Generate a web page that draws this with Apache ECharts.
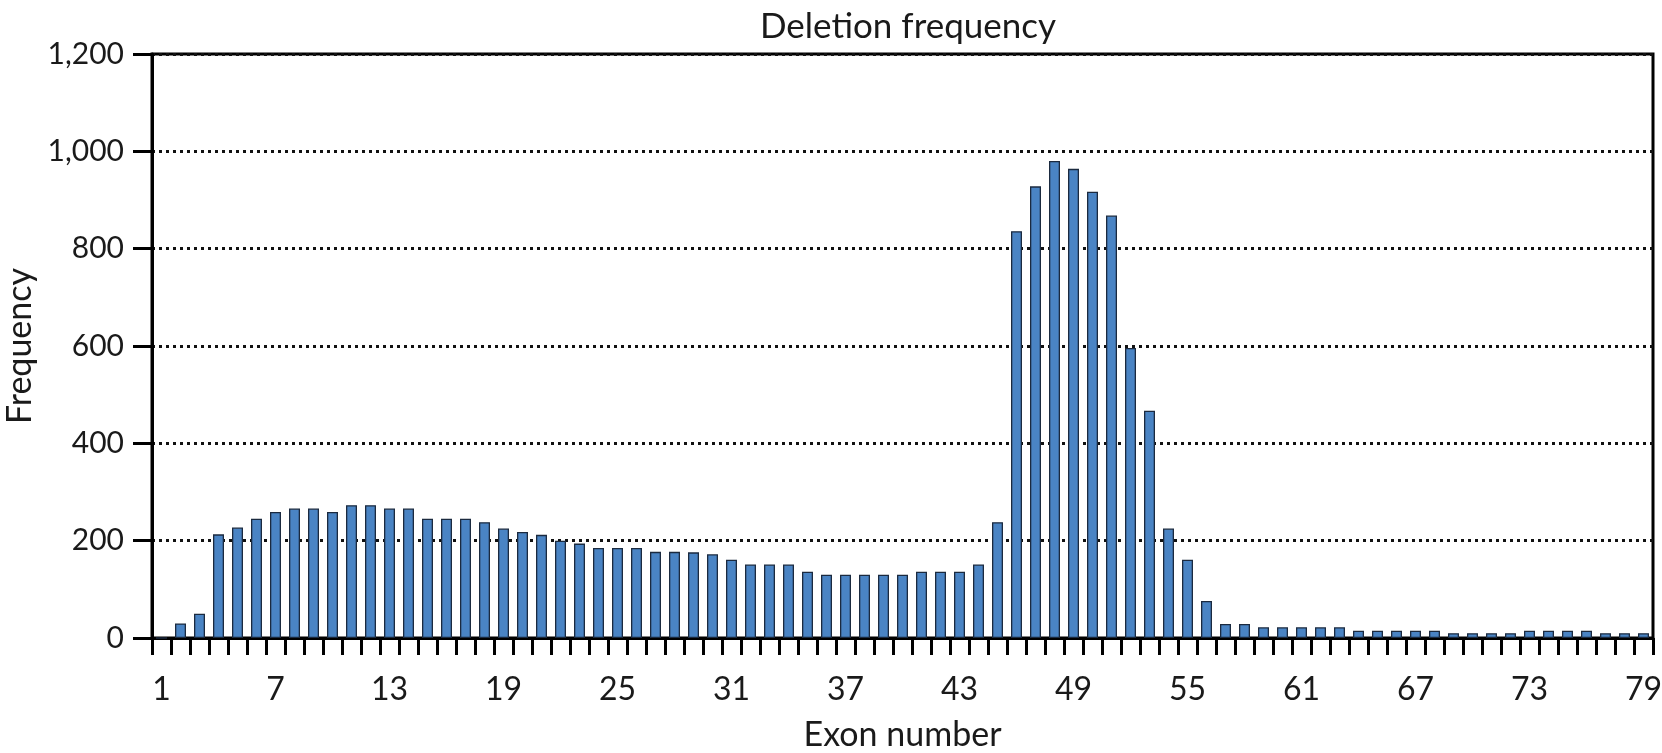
<!DOCTYPE html>
<html lang="en">
<head>
    <meta charset="UTF-8">
    <title>Deletion frequency</title>
    <script src="https://cdn.jsdelivr.net/npm/echarts@6/dist/echarts.min.js"></script>
    <style>
        body { padding: 0; margin: 0; background: #fff; }
        #chart { width: 1662px; height: 753px; }
    </style>
</head>
<body>
    <div id="chart"></div>

    <script>
        // exon numbers 1..79
        const exons = ['1','2','3','4','5','6','7','8','9','10','11','12','13','14','15','16','17','18','19','20',
            '21','22','23','24','25','26','27','28','29','30','31','32','33','34','35','36','37','38','39','40',
            '41','42','43','44','45','46','47','48','49','50','51','52','53','54','55','56','57','58','59','60',
            '61','62','63','64','65','66','67','68','69','70','71','72','73','74','75','76','77','78','79'];

        // deletion frequency per exon
        const deletions = [0, 30, 50, 213, 227, 245, 259, 266, 266, 259,
            273, 273, 266, 266, 245, 245, 245, 238, 225, 218,
            212, 200, 194, 185, 185, 185, 177, 177, 176, 172,
            161, 151, 151, 151, 136, 130, 130, 130, 130, 130,
            136, 136, 136, 151, 238, 836, 928, 980, 964, 917,
            868, 596, 467, 225, 161, 76, 29, 29, 22, 22,
            22, 22, 22, 15, 15, 15, 15, 15, 10, 10,
            10, 10, 15, 15, 15, 15, 10, 10, 10];

        const yMin = 0, yMax = 1200, yStep = 200;

        const font = 'Lato, "Open Sans", sans-serif';
        const ink = '#1a1a1a';
        const chart = echarts.init(document.getElementById('chart'));
        chart.setOption({
            animation: false,
            backgroundColor: '#fff',
            title: {
                text: 'Deletion frequency', left: 903, top: 4, textAlign: 'center',
                textStyle: { fontFamily: font, fontSize: 35, fontWeight: 'normal', color: ink }
            },
            grid: {
                left: 152, right: 9, top: 54, bottom: 115,
                outerBoundsMode: 'none', containLabel: false,
                show: true, borderColor: '#000', borderWidth: 3
            },
            xAxis: {
                type: 'category',
                data: exons,
                name: 'Exon number',
                nameLocation: 'middle',
                nameGap: 80,
                nameTextStyle: { fontFamily: font, fontSize: 34, color: ink },
                axisLine: { show: true, lineStyle: { color: '#000', width: 3 } },
                axisTick: { show: true, interval: 0, length: 17, lineStyle: { color: '#000', width: 3 } },
                axisLabel: { interval: 5, margin: 36, fontFamily: font, fontSize: 32, color: ink }
            },
            yAxis: {
                type: 'value',
                min: yMin, max: yMax, interval: yStep,
                name: 'Frequency',
                nameLocation: 'middle',
                nameGap: 97,
                nameTextStyle: { fontFamily: font, fontSize: 34, color: ink },
                axisLine: { show: true, lineStyle: { color: '#000', width: 3 } },
                axisTick: { show: true, length: 19, lineStyle: { color: '#000', width: 3 } },
                axisLabel: {
                    margin: 28, fontFamily: font, fontSize: 30, color: ink,
                    formatter: v => v.toLocaleString('en-US')
                },
                splitLine: { lineStyle: { color: '#111', width: 3, type: [3, 4] } }
            },
            series: [{
                type: 'bar',
                data: deletions,
                barWidth: 11,
                itemStyle: { color: '#4a84c4', borderColor: '#1b2a3f', borderWidth: 1.3 }
            }]
        });
    </script>
</body>
</html>
